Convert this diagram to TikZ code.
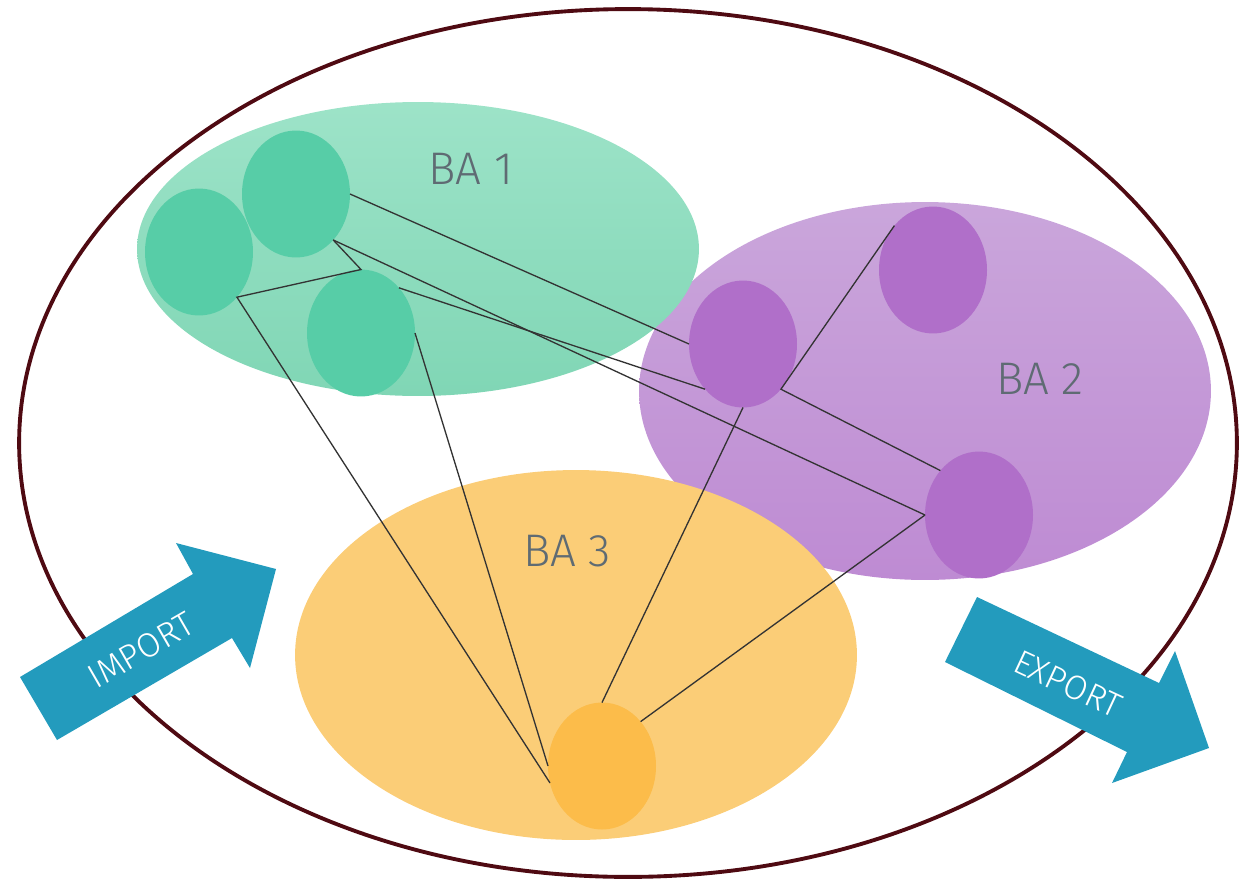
\documentclass[tikz,border=0pt]{standalone}
\usepackage{fontspec}
\newfontfamily\thinfont{Fira Sans Light}
\usetikzlibrary{shapes.geometric}
\definecolor{rim}{HTML}{4F0A12}
\definecolor{greenTop}{HTML}{9DE3C8}
\definecolor{greenBot}{HTML}{80D6B5}
\definecolor{greenDot}{HTML}{57CDA7}
\definecolor{purpleTop}{HTML}{CAA6DB}
\definecolor{purpleBot}{HTML}{BE8BD3}
\definecolor{purpleDot}{HTML}{B06FC9}
\definecolor{orangeArea}{HTML}{FBCD77}
\definecolor{orangeDot}{HTML}{FCBC4A}
\definecolor{labelgray}{HTML}{5F6B73}
\definecolor{flow}{HTML}{239BBD}
\definecolor{wire}{HTML}{333333}
\begin{document}
\begin{tikzpicture}[x=0.02cm,y=-0.02cm,
  area/.style={ellipse,inner sep=0pt,outer sep=0pt},
  unit/.style={ellipse,inner sep=0pt,outer sep=0pt,minimum width=2.16cm,minimum height=2.54cm},
  link/.style={draw=wire,line width=0.75pt},
  balabel/.style={text=labelgray,font=\thinfont\fontsize{26}{31}\selectfont},
  flowlabel/.style={text=white,font=\thinfont\fontsize{19.5}{23}\selectfont}]
\useasboundingbox (0,0) rectangle (1239,879);
\node [ellipse,draw=rim,line width=2.2pt,minimum width=24.36cm,minimum height=17.36cm] (world) at (628,443) {};
% areas
\node [area,top color=purpleTop,bottom color=purpleBot,minimum width=11.44cm,minimum height=7.56cm] (ba2) at (925,391) {};
\node [area,top color=greenTop,bottom color=greenBot,minimum width=11.24cm,minimum height=5.88cm] (ba1) at (418,249) {};
\node [area,fill=orangeArea,minimum width=11.24cm,minimum height=7.4cm] (ba3) at (576,655) {};
\node [balabel] (t1) at (471,169) {BA 1};
\node [balabel] (t2) at (1040,379) {BA 2};
\node [balabel] (t3) at (567,551) {BA 3};
% units
\node [unit,fill=greenDot] (g1) at (199,252) {};
\node [unit,fill=greenDot] (g2) at (296,194) {};
\node [unit,fill=greenDot] (g3) at (361,333) {};
\node [unit,fill=purpleDot] (p1) at (933,270) {};
\node [unit,fill=purpleDot] (p2) at (743,344) {};
\node [unit,fill=purpleDot] (p3) at (979,515) {};
\node [unit,fill=orangeDot] (o1) at (602,766) {};
% links
\draw [link] (g2.east) -- (p2.west);
\draw [link] (g2.-51) -- (g3.north) -- (g1.-50) -- (o1.-162);
\draw [link] (g2.-51) -- (p3.west);
\draw [link] (g3.50) -- (p2.-130);
\draw [link] (g3.east) -- (o1.west);
\draw [link] (p2.south) -- (o1.north);
\draw [link] (p1.131) -- (p2.-50) -- (p3.131);
\draw [link] (p3.west) -- (o1.49);
% import / export
\fill [flow] (20,677) -- (57,740) -- (232,638) -- (250,668) -- (276,569) -- (176,543) -- (193,574) -- cycle;
\node [flowlabel,rotate=30] (import) at (141,650) {IMPORT};
\fill [flow] (945,662) -- (977,597) -- (1159,683) -- (1175,651) -- (1209,748) -- (1112,783) -- (1127,752) -- cycle;
\node [flowlabel,rotate=-25] (export) at (1068,684) {EXPORT};
\end{tikzpicture}
\end{document}
